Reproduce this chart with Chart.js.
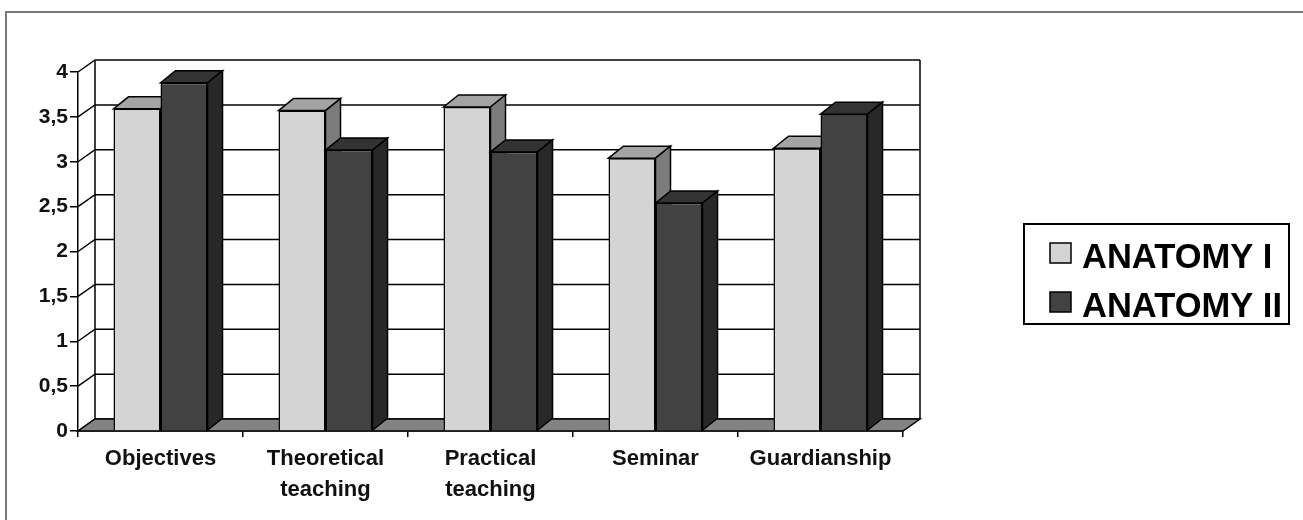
<!DOCTYPE html>
<html>
<head>
<meta charset="utf-8">
<title>Anatomy I / Anatomy II ratings</title>
<script src="https://cdn.jsdelivr.net/npm/chart.js@4.4.1/dist/chart.umd.min.js"></script>
<style>
  html, body { margin: 0; padding: 0; background: #ffffff; }
  canvas { display: block; }
</style>
</head>
<body>
<canvas id="chart" width="1303" height="520"></canvas>
<script>
// Survey items and mean scores for the two course groups
const categories = ['Objectives', ['Theoretical', 'teaching'], ['Practical', 'teaching'], 'Seminar', 'Guardianship'];
const anatomyI = [3.59, 3.57, 3.61, 3.04, 3.15];
const anatomyII = [3.88, 3.13, 3.11, 2.54, 3.53];
const seriesNames = ['ANATOMY I', 'ANATOMY II'];
const yTickLabels = ['0', '0,5', '1', '1,5', '2', '2,5', '3', '3,5', '4'];

// Face colours for each series: front, top, side
const faceColors = [
  { front: '#d4d4d4', top: '#a4a4a4', side: '#7c7c7c' },
  { front: '#424242', top: '#333333', side: '#282828' }
];

const FONT = '"Liberation Sans", Arial, Helvetica, sans-serif';
const WALL_DEPTH = { dx: 17, dy: -12 };
const BAR_DEPTH = { dx: 15, dy: -12 };

function poly(ctx, pts, fill) {
  ctx.beginPath();
  ctx.moveTo(pts[0][0], pts[0][1]);
  for (let i = 1; i < pts.length; i++) ctx.lineTo(pts[i][0], pts[i][1]);
  ctx.closePath();
  if (fill) { ctx.fillStyle = fill; ctx.fill(); }
  ctx.stroke();
}

// Draws the box frame, the back wall, the floor, the 3D bar faces and the legend
const columns3d = {
  id: 'columns3d',
  beforeDraw(chart) {
    const { ctx } = chart;
    ctx.save();
    ctx.strokeStyle = '#7a7a7a';
    ctx.lineWidth = 2;
    ctx.beginPath();
    ctx.moveTo(6, 520);
    ctx.lineTo(6, 12);
    ctx.lineTo(chart.width, 12);
    ctx.stroke();
    ctx.restore();
  },
  beforeDatasetsDraw(chart) {
    const { ctx, chartArea: a, scales: { y } } = chart;
    const { dx, dy } = WALL_DEPTH;
    const yb = y.getPixelForValue(y.min);
    const yt = y.getPixelForValue(y.max);
    ctx.save();
    ctx.strokeStyle = '#000';
    ctx.lineWidth = 1.5;
    ctx.lineJoin = 'miter';
    // back wall
    ctx.fillStyle = '#ffffff';
    ctx.fillRect(a.left + dx, yt + dy, a.right - a.left, yb - yt);
    // gridlines running back from the value axis and across the wall
    y.ticks.forEach(t => {
      const py = y.getPixelForValue(t.value);
      ctx.beginPath();
      ctx.moveTo(a.left, py);
      ctx.lineTo(a.left + dx, py + dy);
      ctx.lineTo(a.right + dx, py + dy);
      ctx.stroke();
    });
    // wall edges
    ctx.beginPath();
    ctx.moveTo(a.left + dx, yt + dy);
    ctx.lineTo(a.left + dx, yb + dy);
    ctx.moveTo(a.right + dx, yt + dy);
    ctx.lineTo(a.right + dx, yb + dy);
    ctx.stroke();
    // floor
    poly(ctx, [[a.left, yb], [a.left + dx, yb + dy], [a.right + dx, yb + dy], [a.right, yb]], '#838383');
    ctx.restore();
  },
  beforeDatasetDraw() {
    // bars are painted in afterDatasetsDraw so each column's faces stack correctly
    return false;
  },
  afterDatasetsDraw(chart) {
    const { ctx } = chart;
    const { dx, dy } = BAR_DEPTH;
    ctx.save();
    ctx.strokeStyle = '#000';
    ctx.lineWidth = 1.5;
    ctx.lineJoin = 'miter';
    chart.data.datasets.forEach((ds, di) => {
      const meta = chart.getDatasetMeta(di);
      const col = faceColors[di];
      meta.data.forEach(bar => {
        const p = bar.getProps(['x', 'y', 'base', 'width'], true);
        const l = p.x - p.width / 2, r = p.x + p.width / 2;
        poly(ctx, [[l, p.y], [l + dx, p.y + dy], [r + dx, p.y + dy], [r, p.y]], col.top);
        poly(ctx, [[r, p.y], [r + dx, p.y + dy], [r + dx, p.base + dy], [r, p.base]], col.side);
        bar.draw(ctx, chart.chartArea);
      });
    });
    ctx.restore();
  },
  afterDraw(chart) {
    const { ctx } = chart;
    const box = { left: 1024, top: 224, width: 265, height: 100 };
    ctx.save();
    ctx.strokeStyle = '#000';
    ctx.lineWidth = 2;
    ctx.fillStyle = '#fff';
    ctx.fillRect(box.left, box.top, box.width, box.height);
    ctx.strokeRect(box.left, box.top, box.width, box.height);
    ctx.font = 'bold 34.5px ' + FONT;
    ctx.textBaseline = 'alphabetic';
    ctx.textAlign = 'left';
    chart.data.datasets.forEach((ds, i) => {
      const rowTop = box.top + 19 + i * 49;
      ctx.fillStyle = ds.backgroundColor;
      ctx.lineWidth = 1.5;
      ctx.fillRect(box.left + 26, rowTop, 21, 20);
      ctx.strokeRect(box.left + 26, rowTop, 21, 20);
      ctx.fillStyle = '#000';
      ctx.fillText(ds.label, box.left + 58, rowTop + 25);
    });
    ctx.restore();
  }
};

new Chart(document.getElementById('chart'), {
  type: 'bar',
  data: {
    labels: categories,
    datasets: [
      { label: seriesNames[0], data: anatomyI, backgroundColor: faceColors[0].front, borderColor: '#000', borderWidth: 1.5 },
      { label: seriesNames[1], data: anatomyII, backgroundColor: faceColors[1].front, borderColor: '#000', borderWidth: 1.5 }
    ]
  },
  options: {
    responsive: false,
    animation: false,
    events: [],
    layout: { padding: { left: 0, top: 72, right: 400, bottom: 0 } },
    datasets: { bar: { categoryPercentage: 0.57, barPercentage: 1.0 } },
    plugins: { legend: { display: false }, tooltip: { enabled: false } },
    scales: {
      x: {
        offset: true,
        grid: { offset: true, drawOnChartArea: false, tickLength: 6, color: '#000', lineWidth: 1.5 },
        border: { display: true, color: '#000', width: 1.5 },
        ticks: {
          color: '#111',
          padding: 6,
          maxRotation: 0,
          autoSkip: false,
          font: { family: FONT, size: 22, weight: 'bold', lineHeight: 1.42 }
        },
        afterFit(scale) { scale.height = 89; }
      },
      y: {
        min: 0,
        max: 4,
        grid: { drawOnChartArea: false, tickLength: 8, color: '#000', lineWidth: 1.5 },
        border: { display: true, color: '#000', width: 1.5 },
        ticks: {
          stepSize: 0.5,
          color: '#111',
          padding: 2,
          font: { family: FONT, size: 21, weight: 'bold' },
          callback: (value, index) => yTickLabels[index]
        },
        afterFit(scale) { scale.width = 78; }
      }
    }
  },
  plugins: [columns3d]
});
</script>
</body>
</html>
